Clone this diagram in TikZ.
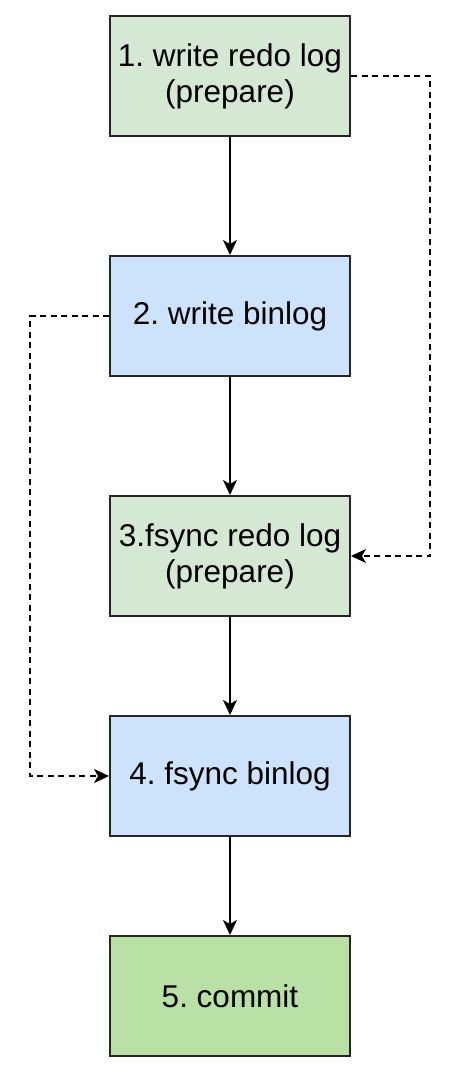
\documentclass[tikz,border=0pt]{standalone}
\usepackage{fontspec}
\setmainfont{Liberation Sans}
\usetikzlibrary{arrows.meta}
\definecolor{gfill}{HTML}{D5E8D4}
\definecolor{bfill}{HTML}{CCE3FB}
\definecolor{cfill}{HTML}{B9E0A5}
\frenchspacing
\begin{document}
\begin{tikzpicture}[x=1pt,y=-1pt,
  box/.style={draw=black!85,line width=2pt,minimum width=240pt,minimum height=120pt,inner sep=0pt,align=center,font=\fontsize{31.5}{36}\selectfont},
  flow/.style={line width=1.8pt,-{Stealth[length=15pt,width=14pt,inset=4pt]}},
  dflow/.style={flow,dash pattern=on 6pt off 4.5pt}]
\useasboundingbox (0,0) rectangle (464,1074);
\fill[white] (0,0) rectangle (464,1074);
\node[box,fill=gfill] (b1) at (230,76) {1. write redo log\\(prepare)};
\node[box,fill=bfill] (b2) at (230,316) {2. write binlog};
\node[box,fill=gfill] (b3) at (230,556) {3.fsync redo log\\(prepare)};
\node[box,fill=bfill] (b4) at (230,776) {4. fsync binlog};
\node[box,fill=cfill] (b5) at (230,996) {5. commit};
\coordinate (r1) at (430,76);
\coordinate (r2) at (430,556);
\coordinate (l1) at (30,316);
\coordinate (l2) at (30,776);
\draw[flow] (b1) -- (b2);
\draw[flow] (b2) -- (b3);
\draw[flow] (b3) -- (b4);
\draw[flow] (b4) -- (b5);
\draw[dflow] (b1.east) -- (r1) -- (r2) -- (b3.east);
\draw[dflow] (b2.west) -- (l1) -- (l2) -- (b4.west);
\end{tikzpicture}
\end{document}
